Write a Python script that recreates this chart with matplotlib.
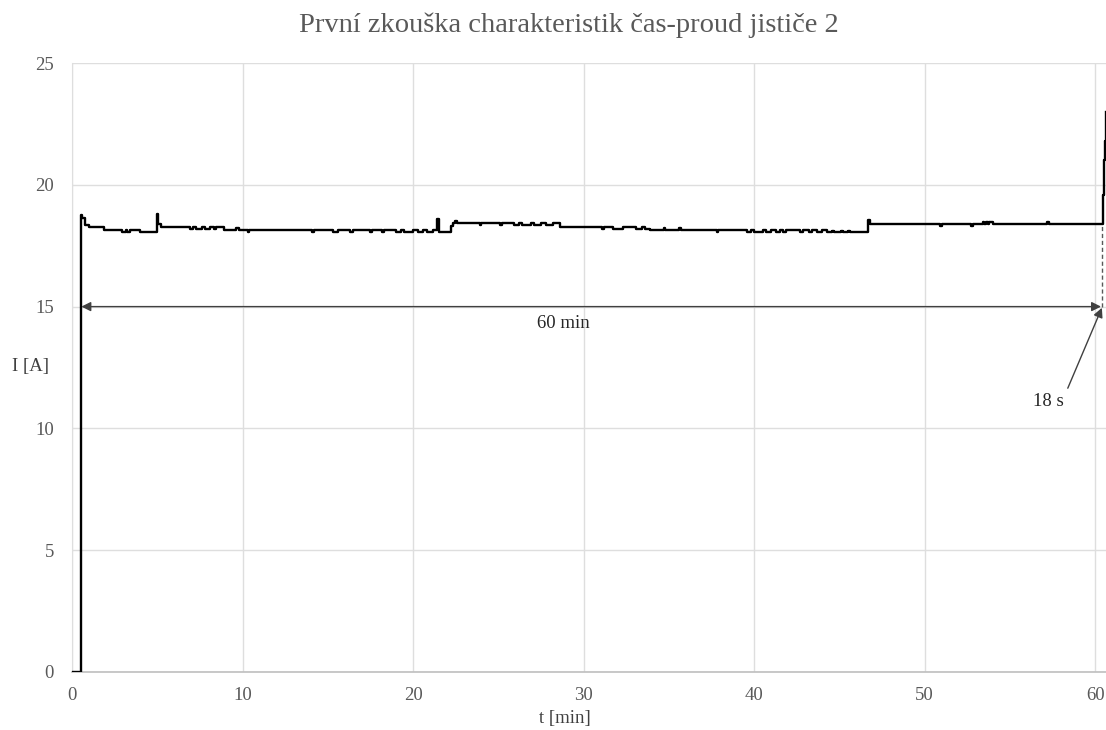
import matplotlib
matplotlib.use("Agg")
import matplotlib.pyplot as plt

# ---- data (step breakpoints) ----
t_min = [0.0, 0.5, 0.6, 0.75, 1.0, 1.85, 2.95, 3.15, 3.25, 3.4, 4.0, 4.97, 5.05, 5.2,
         6.9, 7.1, 7.3, 7.6, 7.8, 8.1, 8.3, 8.45, 8.9, 9.6, 9.8, 10.3, 10.4,
         14.1, 14.2, 15.3, 15.6, 16.3, 16.5, 17.5, 17.6, 18.2, 18.3,
         19.0, 19.3, 19.5, 20.0, 20.3, 20.6, 20.8, 21.2, 21.4, 21.5, 22.2, 22.35, 22.45, 22.6,
         23.9, 24.0, 25.1, 25.2, 25.9, 26.2, 26.4, 26.9, 27.1, 27.5, 27.8, 28.2, 28.6,
         31.1, 31.2, 31.7, 32.3, 33.1, 33.4, 33.6, 33.9,
         34.7, 34.8, 35.6, 35.7, 37.8, 37.9,
         39.6, 39.8, 40.0, 40.5, 40.7, 41.0, 41.3, 41.5, 41.7, 41.9,
         42.7, 42.9, 43.2, 43.4, 43.7, 44.0, 44.3, 44.6, 44.7, 45.1, 45.2, 45.5, 45.6,
         46.7, 46.8, 50.9, 51.0, 52.75, 52.85,
         53.4, 53.5, 53.6, 53.7, 53.8, 54.0, 57.2, 57.3,
         60.4, 60.45, 60.5, 60.56, 60.62, 60.66]
current_A = [0.0, 18.75, 18.62, 18.35, 18.28, 18.14, 18.06, 18.14, 18.06, 18.14, 18.06, 18.8, 18.4, 18.27,
             18.2, 18.27, 18.2, 18.27, 18.2, 18.27, 18.2, 18.27, 18.14, 18.22, 18.14, 18.06, 18.14,
             18.06, 18.14, 18.06, 18.14, 18.06, 18.14, 18.06, 18.14, 18.06, 18.14,
             18.06, 18.14, 18.06, 18.14, 18.06, 18.14, 18.06, 18.14, 18.6, 18.06, 18.3, 18.44, 18.5, 18.44,
             18.36, 18.44, 18.36, 18.44, 18.36, 18.44, 18.36, 18.44, 18.36, 18.44, 18.36, 18.44, 18.28,
             18.2, 18.28, 18.2, 18.28, 18.2, 18.28, 18.2, 18.14,
             18.24, 18.14, 18.24, 18.14, 18.06, 18.14,
             18.06, 18.14, 18.06, 18.14, 18.06, 18.14, 18.06, 18.14, 18.06, 18.14,
             18.06, 18.14, 18.06, 18.14, 18.06, 18.14, 18.06, 18.12, 18.06, 18.12, 18.06, 18.12, 18.06,
             18.55, 18.39, 18.3, 18.39, 18.3, 18.39,
             18.48, 18.39, 18.48, 18.39, 18.48, 18.39, 18.48, 18.39,
             18.39, 19.6, 21.0, 21.8, 22.2, 23.0]

x_ticks = [0, 10, 20, 30, 40, 50, 60]
y_ticks = [0, 5, 10, 15, 20, 25]

title = "První zkouška charakteristik čas-proud jističe 2"
x_label = "t [min]"
y_label = "I [A]"
span_label = "60 min"
delay_label = "18 s"
span_start, span_end, span_level = 0.55, 60.35, 15.0
trip_level = 18.39

plt.rcParams['font.family'] = ['Liberation Serif', 'DejaVu Serif']

W, H = 1106, 730
fig = plt.figure(figsize=(W / 100, H / 100), dpi=100)
ax = fig.add_axes([72 / W, (H - 672) / H, (1107 - 72) / W, (672 - 63) / H])

ax.plot(t_min, current_A, drawstyle='steps-post', color='black', lw=1.7, zorder=3)

ax.set_xlim(0, 60.7)
ax.set_ylim(0, 25)
ax.set_xticks(x_ticks)
ax.set_yticks(y_ticks)
ax.grid(True, color='#dedede', lw=1)
ax.set_axisbelow(True)
for s in ['top', 'right']:
    ax.spines[s].set_visible(False)
ax.spines['left'].set_color('#dedede')
ax.spines['bottom'].set_color('#bfbfbf')
ax.spines['bottom'].set_linewidth(1.2)
ax.tick_params(axis='both', length=0, labelsize=13.5, labelcolor='#595959')
ax.tick_params(axis='x', pad=11)
ax.tick_params(axis='y', pad=13)

# double arrow 60 min
ax.annotate('', xy=(span_start, span_level), xytext=(span_end, span_level),
            arrowprops=dict(arrowstyle='<|-|>', color='#404040', lw=1.0,
                            mutation_scale=14, shrinkA=0, shrinkB=0), zorder=4)
ax.text(28.8, 14.3, span_label, ha='center', va='center', fontsize=13.5, color='#262626')
# dashed vertical
ax.plot([60.38, 60.38], [span_level, trip_level], ls=(0, (3, 2)), color='#595959', lw=1.0)
# 18 s arrow
ax.annotate('', xy=(60.4, span_level - 0.05), xytext=(58.4, 11.65),
            arrowprops=dict(arrowstyle='-|>', color='#404040', lw=1.0,
                            mutation_scale=14, shrinkA=0, shrinkB=0), zorder=4)
ax.text(57.25, 11.1, delay_label, ha='center', va='center', fontsize=13.5, color='#262626')

fig.text(569 / W, 1 - 25 / H, title, ha='center', va='center', fontsize=20.5, color='#595959')
fig.text(565 / W, 1 - 719 / H, x_label, ha='center', va='center', fontsize=13.5, color='#404040')
fig.text(30 / W, 1 - 367 / H, y_label, ha='center', va='center', fontsize=13.5, color='#404040')

fig.savefig('out.png', dpi=100)
